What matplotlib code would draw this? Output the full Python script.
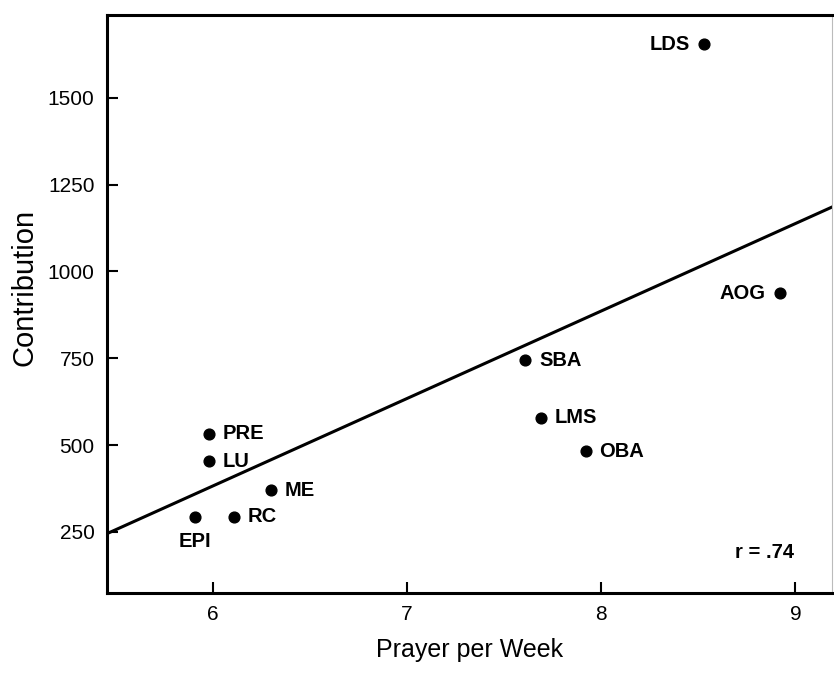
import matplotlib
matplotlib.use('Agg')
import matplotlib.pyplot as plt

plt.rcParams['font.family'] = ['Liberation Sans', 'DejaVu Sans']

# denominations, prayer per week and contribution
names = ['LDS', 'AOG', 'SBA', 'LMS', 'OBA', 'PRE', 'LU', 'ME', 'RC', 'EPI']
prayer = [8.53, 8.92, 7.61, 7.69, 7.92, 5.98, 5.98, 6.30, 6.11, 5.91]
contribution = [1655, 937, 744, 578, 482, 532, 454, 370, 293, 293]
# where the label goes relative to the dot
label_side = ['left', 'left', 'right', 'right', 'right', 'right', 'right', 'right', 'right', 'below']

# fitted line
fit_intercept_at_6 = 382
fit_slope = 252
r_text = 'r = .74'

fig = plt.figure(figsize=(8.34, 6.75), dpi=100)
ax = fig.add_axes([0.1283, 0.1215, 0.8697, 0.8565])

ax.axline((6, fit_intercept_at_6), slope=fit_slope, color='black', lw=2.2, zorder=1)
ax.scatter(prayer, contribution, s=60, color='black', zorder=2)

for n, x, y, side in zip(names, prayer, contribution, label_side):
    if side == 'right':
        ax.annotate(n, (x, y), xytext=(10, 0), textcoords='offset points',
                    ha='left', va='center', fontsize=14.5, fontweight='bold')
    elif side == 'left':
        ax.annotate(n, (x, y), xytext=(-10, 0), textcoords='offset points',
                    ha='right', va='center', fontsize=14.5, fontweight='bold')
    else:
        ax.annotate(n, (x, y), xytext=(0, -18), textcoords='offset points',
                    ha='center', va='center', fontsize=14.5, fontweight='bold')

ax.text(8.995, 192, r_text, ha='right', va='center', fontsize=14.5, fontweight='bold')

ax.set_xlim(5.456, 9.19)
ax.set_ylim(74, 1739)
ax.set_xticks([6, 7, 8, 9])
ax.set_yticks([250, 500, 750, 1000, 1250, 1500])
ax.tick_params(direction='in', length=8, width=1.5, labelsize=15, pad=9)

for s in ['left', 'bottom', 'top']:
    ax.spines[s].set_linewidth(2.2)
ax.spines['right'].set_color('#bbbbbb')
ax.spines['right'].set_linewidth(0.8)

ax.set_xlabel('Prayer per Week', fontsize=18, labelpad=10)
ax.set_ylabel('Contribution', fontsize=21)
ax.yaxis.set_label_coords(-0.095, 0.528)

fig.savefig('out.png', dpi=100)
